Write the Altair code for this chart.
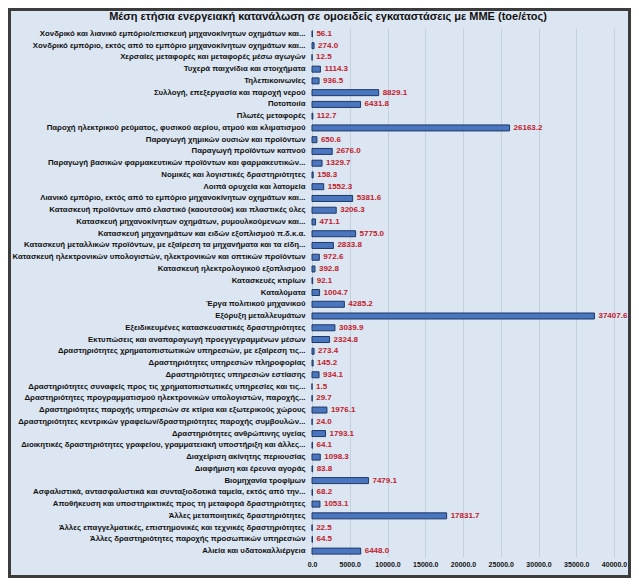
import altair as alt
import pandas as pd

categories = [
    "Χονδρικό και λιανικό εμπόριο/επισκευή μηχανοκίνητων οχημάτων και...",
    "Χονδρικό εμπόριο, εκτός από το εμπόριο μηχανοκίνητων οχημάτων και...",
    "Χερσαίες μεταφορές και μεταφορές μέσω αγωγών",
    "Τυχερά παιχνίδια και στοιχήματα",
    "Τηλεπικοινωνίες",
    "Συλλογή, επεξεργασία και παροχή νερού",
    "Ποτοποιία",
    "Πλωτές μεταφορές",
    "Παροχή ηλεκτρικού ρεύματος, φυσικού αερίου, ατμού και κλιματισμού",
    "Παραγωγή χημικών ουσιών και προϊόντων",
    "Παραγωγή προϊόντων καπνού",
    "Παραγωγή βασικών φαρμακευτικών προϊόντων και φαρμακευτικών...",
    "Νομικές και λογιστικές δραστηριότητες",
    "Λοιπά ορυχεία και λατομεία",
    "Λιανικό εμπόριο, εκτός από το εμπόριο μηχανοκίνητων οχημάτων και...",
    "Κατασκευή προϊόντων από ελαστικό (καουτσούκ) και πλαστικές ύλες",
    "Κατασκευή μηχανοκίνητων οχημάτων, ρυμουλκούμενων και...",
    "Κατασκευή μηχανημάτων και ειδών εξοπλισμού π.δ.κ.α.",
    "Κατασκευή μεταλλικών προϊόντων, με εξαίρεση τα μηχανήματα και τα είδη...",
    "Κατασκευή ηλεκτρονικών υπολογιστών, ηλεκτρονικών και οπτικών προϊόντων",
    "Κατασκευή ηλεκτρολογικού εξοπλισμού",
    "Κατασκευές κτιρίων",
    "Καταλύματα",
    "Έργα πολιτικού μηχανικού",
    "Εξόρυξη μεταλλευμάτων",
    "Εξειδικευμένες κατασκευαστικές δραστηριότητες",
    "Εκτυπώσεις και αναπαραγωγή προεγγεγραμμένων μέσων",
    "Δραστηριότητες χρηματοπιστωτικών υπηρεσιών, με εξαίρεση τις...",
    "Δραστηριότητες υπηρεσιών πληροφορίας",
    "Δραστηριότητες υπηρεσιών εστίασης",
    "Δραστηριότητες συναφείς προς τις χρηματοπιστωτικές υπηρεσίες και τις...",
    "Δραστηριότητες προγραμματισμού ηλεκτρονικών υπολογιστών, παροχής...",
    "Δραστηριότητες παροχής υπηρεσιών σε κτίρια και εξωτερικούς χώρους",
    "Δραστηριότητες κεντρικών γραφείων/δραστηριότητες παροχής συμβουλών...",
    "Δραστηριότητες ανθρώπινης υγείας",
    "Διοικητικές δραστηριότητες γραφείου, γραμματειακή υποστήριξη και άλλες...",
    "Διαχείριση ακίνητης περιουσίας",
    "Διαφήμιση και έρευνα αγοράς",
    "Βιομηχανία τροφίμων",
    "Ασφαλιστικά, αντασφαλιστικά και συνταξιοδοτικά ταμεία, εκτός από την...",
    "Αποθήκευση και υποστηρικτικές προς τη μεταφορά δραστηριότητες",
    "Άλλες μεταποιητικές δραστηριότητες",
    "Άλλες επαγγελματικές, επιστημονικές και τεχνικές δραστηριότητες",
    "Άλλες δραστηριότητες παροχής προσωπικών υπηρεσιών",
    "Αλιεία και υδατοκαλλιέργεια",
]

values = [
    56.1, 274.0, 12.5, 1114.3, 936.5, 8829.1, 6431.8, 112.7, 26163.2, 650.6,
    2676.0, 1329.7, 158.3, 1552.3, 5381.6, 3206.3, 471.1, 5775.0, 2833.8, 972.6,
    392.8, 92.1, 1004.7, 4285.2, 37407.6, 3039.9, 2324.8, 273.4, 145.2, 934.1,
    1.5, 29.7, 1976.1, 24.0, 1793.1, 64.1, 1098.3, 83.8, 7479.1, 68.2,
    1053.1, 17831.7, 22.5, 64.5, 6448.0,
]

x_ticks = [0, 5000, 10000, 15000, 20000, 25000, 30000, 35000, 40000]

title_text = "Μέση ετήσια ενεργειακή κατανάλωση σε ομοειδείς εγκαταστάσεις με ΜΜΕ (toe/έτος)"

df = pd.DataFrame({"cat": categories, "val": values})

FONT = "Liberation Sans"
PLOT_H = 529

base = alt.Chart(df).encode(
    y=alt.Y(
        "cat:N",
        sort=categories,
        title=None,
        axis=alt.Axis(
            domain=False, ticks=False, labelLimit=320, labelFontSize=7.8,
            labelFont=FONT, labelFontWeight="bold", labelColor="#111111",
            labelPadding=7, grid=False,
        ),
    ),
    x=alt.X(
        "val:Q",
        title=None,
        scale=alt.Scale(domain=[0, 40000], nice=False),
        axis=alt.Axis(
            values=x_ticks, format=".1f", domain=False, ticks=False,
            labelFontSize=7, labelFont=FONT, labelFontWeight="bold",
            labelColor="#111111", labelPadding=3, labelOverlap=False,
            labelFlush=False,
            grid=True, gridColor="#c5d0dd", gridWidth=1,
        ),
    ),
)

bars = base.mark_bar(size=6, color="#4a76c0", stroke="#1f3864", strokeWidth=1)

labels = base.mark_text(
    align="left", baseline="middle", dx=4, color="#c0202a",
    fontSize=8, font=FONT, fontWeight="bold",
).encode(text=alt.Text("val:Q", format=".1f"))

one = pd.DataFrame({"t": [title_text]})

frame = alt.Chart(one).mark_rect(
    fillOpacity=0, stroke="#3c3c3c", strokeWidth=3
).encode(
    x=alt.value(-302.5), x2=alt.value(317.5),
    y=alt.value(-18.5), y2=alt.value(548.5),
)

title = alt.Chart(one).mark_text(
    font=FONT, fontSize=11, fontWeight="bold", color="#111111",
    align="center", baseline="top",
).encode(text="t:N", x=alt.value(16), y=alt.value(-17))

chart = alt.layer(bars, labels, frame, title).properties(
    width=302,
    height=PLOT_H,
    autosize=alt.AutoSizeParams(type="none"),
    padding={"left": 304, "top": 20, "right": 17, "bottom": 570 - 20 - PLOT_H},
).configure(background="#dce6f2").configure_view(stroke=None)

chart.save("out.html", embed_options={"renderer": "svg", "actions": False})
